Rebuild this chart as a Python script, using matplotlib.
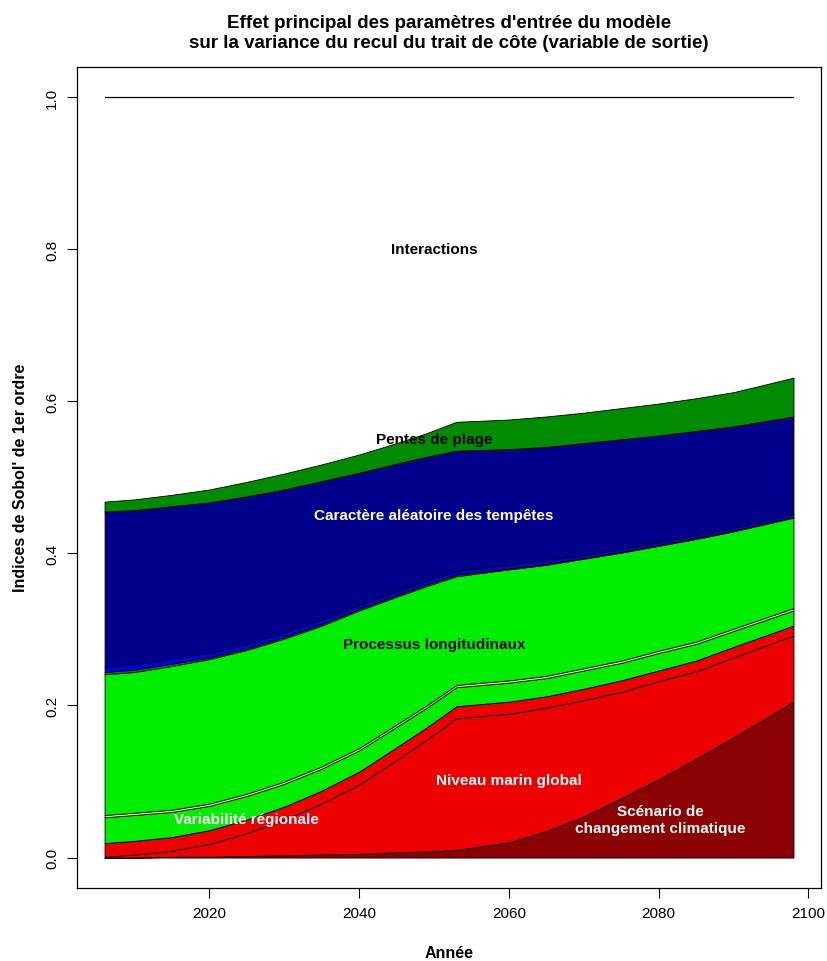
import numpy as np
import matplotlib; matplotlib.use("Agg"); import matplotlib.pyplot as plt

plt.rcParams['font.family'] = ['Liberation Sans', 'DejaVu Sans']

# years
years = [2006, 2010, 2015, 2020, 2025, 2030, 2035, 2040, 2045, 2049, 2053,
         2060, 2065, 2070, 2075, 2080, 2085, 2090, 2098]
# first-order Sobol indices per input parameter (bottom -> top of the stack)
scenario      = [0.000, 0.000, 0.001, 0.001, 0.002, 0.003, 0.004, 0.005, 0.007, 0.008, 0.010,
                 0.020, 0.035, 0.054, 0.078, 0.103, 0.130, 0.158, 0.205]
niveau_marin  = [0.001, 0.004, 0.008, 0.017, 0.030, 0.047, 0.067, 0.091, 0.121, 0.147, 0.173,
                 0.169, 0.162, 0.153, 0.140, 0.129, 0.115, 0.105, 0.087]
autre_rouge   = [0.018, 0.018, 0.018, 0.018, 0.018, 0.017, 0.017, 0.017, 0.017, 0.016, 0.016,
                 0.016, 0.015, 0.015, 0.015, 0.014, 0.014, 0.014, 0.013]
var_regionale = [0.034, 0.034, 0.033, 0.032, 0.031, 0.030, 0.029, 0.028, 0.027, 0.026, 0.025,
                 0.025, 0.024, 0.024, 0.023, 0.023, 0.022, 0.021, 0.020]
autre_jaune   = [0.003, 0.003, 0.003, 0.003, 0.003, 0.003, 0.003, 0.003, 0.003, 0.003, 0.003,
                 0.003, 0.003, 0.003, 0.003, 0.003, 0.003, 0.003, 0.003]
longitudinaux = [0.185, 0.185, 0.189, 0.190, 0.189, 0.188, 0.185, 0.181, 0.168, 0.157, 0.143,
                 0.146, 0.146, 0.144, 0.142, 0.138, 0.135, 0.128, 0.119]
autre_vert    = [0.003, 0.003, 0.003, 0.002, 0.002, 0.002, 0.002, 0.002, 0.002, 0.002, 0.002,
                 0.001, 0.001, 0.001, 0.001, 0.001, 0.001, 0.001, 0.001]
autre_bleu    = [0.007, 0.007, 0.007, 0.006, 0.006, 0.006, 0.006, 0.005, 0.005, 0.005, 0.005,
                 0.005, 0.005, 0.004, 0.004, 0.004, 0.004, 0.004, 0.004]
tempetes      = [0.204, 0.203, 0.200, 0.198, 0.194, 0.188, 0.182, 0.174, 0.168, 0.163, 0.158,
                 0.152, 0.149, 0.147, 0.144, 0.140, 0.137, 0.133, 0.128]
pentes        = [0.013, 0.014, 0.015, 0.017, 0.019, 0.021, 0.022, 0.024, 0.027, 0.031, 0.038,
                 0.039, 0.040, 0.040, 0.041, 0.042, 0.043, 0.045, 0.051]

layers = [scenario, niveau_marin, autre_rouge, var_regionale, autre_jaune,
          longitudinaux, autre_vert, autre_bleu, tempetes, pentes]
colors = ["#8B0000", "#EE0000", "#EE0000", "#00EE00", "#FFFF00",
          "#00EE00", "#008B00", "#0000EE", "#00008B", "#008B00"]

first_order = np.sum(np.array(layers), axis=0)
interactions = 1 - first_order

fig = plt.figure(figsize=(8.28, 9.62), dpi=100)
ax = fig.add_axes([0.093, 0.0759, 0.8986, 0.8538])
ax.stackplot(years, *layers, colors=colors, edgecolor="black", linewidth=0.6)
ax.plot(years, first_order + interactions, color="black", lw=0.9)

ax.set_xlim(2006 - 0.04 * 92, 2098 + 0.04 * 92); ax.set_ylim(-0.04, 1.04)
ax.set_xticks([2020, 2040, 2060, 2080, 2100])
ax.set_yticks([0.0, 0.2, 0.4, 0.6, 0.8, 1.0])
ax.set_yticklabels(["0.0", "0.2", "0.4", "0.6", "0.8", "1.0"], rotation=90, va="center")
ax.tick_params(direction="out", length=7, width=0.8, labelsize=11, pad=6)
for s in ax.spines.values(): s.set_linewidth(0.9)

ax.set_xlabel("Année", fontsize=11.5, fontweight="bold", labelpad=18)
ax.set_ylabel("Indices de Sobol' de 1er ordre", fontsize=11.5, fontweight="bold", labelpad=12)
ax.set_title("Effet principal des paramètres d'entrée du modèle\nsur la variance du recul du trait de côte (variable de sortie)",
             fontsize=13.5, fontweight="bold", pad=14, linespacing=1.25)

kw = dict(ha="center", va="center", fontsize=11, fontweight="bold")
ax.text(2050, 0.80, "Interactions", color="black", **kw)
ax.text(2050, 0.551, "Pentes de plage", color="black", **kw)
ax.text(2050, 0.45, "Caractère aléatoire des tempêtes", color="white", **kw)
ax.text(2050, 0.281, "Processus longitudinaux", color="black", **kw)
ax.text(2060, 0.102, "Niveau marin global", color="white", **kw)
ax.text(2080.2, 0.050, "Scénario de\nchangement climatique", color="white", linespacing=1.2, **kw)
ax.text(2025, 0.051, "Variabilité régionale", color="white", **kw)

fig.savefig("out.png", dpi=100)
